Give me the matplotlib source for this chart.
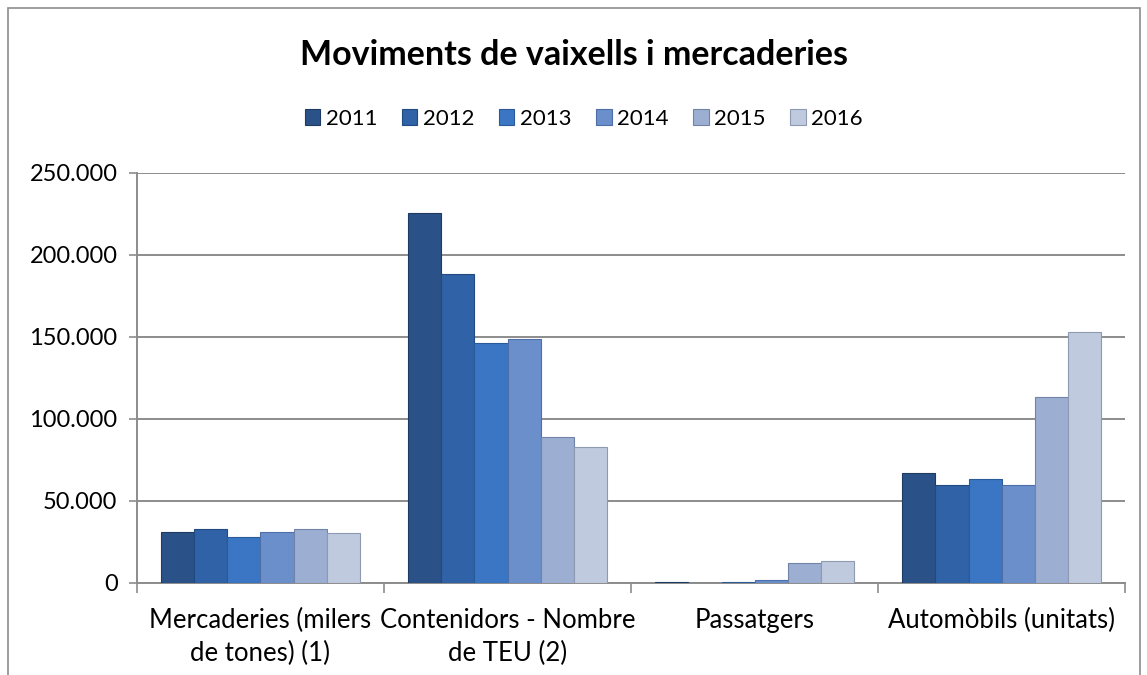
import matplotlib.pyplot as plt
import numpy as np
from matplotlib.ticker import FuncFormatter

plt.rcParams['font.family'] = ['Lato', 'DejaVu Sans']

categories = ["Mercaderies (milers\nde tones) (1)", "Contenidors - Nombre\nde TEU (2)",
              "Passatgers", "Automòbils (unitats)"]
years = ['2011', '2012', '2013', '2014', '2015', '2016']

# values per year, in category order
v2011 = [31100, 225200, 500, 67000]
v2012 = [32600, 188000, 100, 59500]
v2013 = [27700, 146300, 500, 63200]
v2014 = [31100, 148400, 1500, 59500]
v2015 = [32600, 89000, 11800, 113400]
v2016 = [30500, 83000, 13000, 153000]
values = [v2011, v2012, v2013, v2014, v2015, v2016]

colors = ['#2b5288', '#2f62a6', '#3a76c4', '#6a8fca', '#9cafd2', '#c0cade']
edges = ['#1d3a63', '#214a80', '#2a5a9a', '#4d6ea6', '#7184a8', '#8e9ab2']

fig = plt.figure(figsize=(11.47, 6.75), dpi=100)
ax = fig.add_axes([0.1194, 0.1367, 0.8616, 0.6074])

x = np.arange(len(categories))
w = 0.134
for i, yr in enumerate(years):
    ax.bar(x - 2.5 * w + i * w, values[i], width=w, color=colors[i],
           edgecolor=edges[i], linewidth=0.8, label=yr, zorder=3)

ax.set_xlim(-0.5, 3.5)
ax.set_ylim(0, 250000)
ax.set_yticks(np.arange(0, 250001, 50000))
ax.yaxis.set_major_formatter(FuncFormatter(lambda v, p: f"{int(v):,}".replace(',', '.')))
ax.grid(axis='y', color='#8c8c8c', linewidth=1.4, zorder=0)
ax.set_xticks(x)
ax.set_xticklabels(categories, fontsize=18.5, linespacing=1.4)
ax.set_xticks(np.arange(-0.5, 3.6, 1), minor=True)
ax.tick_params(axis='x', which='major', length=0, pad=18)
ax.tick_params(axis='x', which='minor', length=7, color='#8c8c8c', width=1.2)
ax.tick_params(axis='y', length=6, color='#8c8c8c', width=1.2, labelsize=17, pad=8)

for s in ['top', 'right']:
    ax.spines[s].set_visible(False)
for s in ['left', 'bottom']:
    ax.spines[s].set_color('#8c8c8c')
    ax.spines[s].set_linewidth(1.4)

fig.text(0.5, 0.918, "Moviments de vaixells i mercaderies", ha='center', va='center',
         fontsize=24.5, fontweight='bold')
fig.legend(loc='center', bbox_to_anchor=(0.509, 0.824), ncol=6, frameon=False,
           fontsize=16, handlelength=0.7, handleheight=0.7, handletextpad=0.25,
           columnspacing=1.1)

fig.add_artist(plt.Rectangle((0.007, -0.01), 0.987, 0.998, transform=fig.transFigure,
                             fill=False, edgecolor='#8c8c8c', linewidth=1.2))

plt.savefig("out.png", dpi=100)
